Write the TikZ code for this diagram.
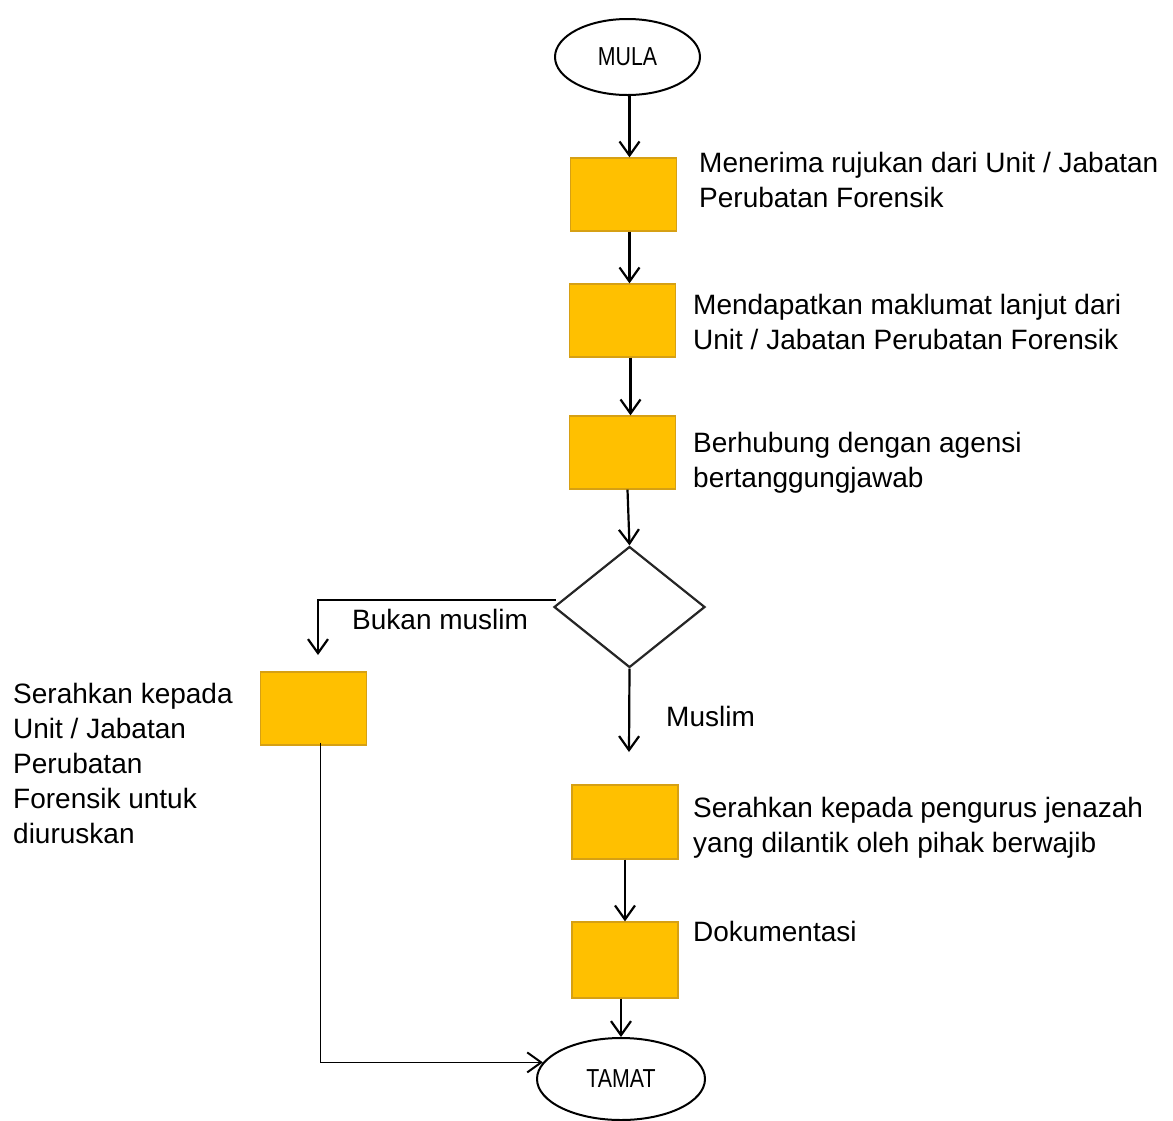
\documentclass[tikz,border=0pt]{standalone}
\usepackage{fontspec}
\setmainfont{Liberation Sans}
\newfontfamily\narrowfont[FakeStretch=0.82]{Liberation Sans}
\usetikzlibrary{shapes.geometric,arrows.meta,calc}
\definecolor{boxfill}{RGB}{255,192,0}
\definecolor{boxline}{RGB}{214,160,20}
\begin{document}
\begin{tikzpicture}[x=1pt,y=-1pt,
  procbox/.style={rectangle,fill=boxfill,draw=boxline,line width=1.3pt,minimum width=106pt,minimum height=73pt,inner sep=0pt},
  term/.style={ellipse,draw=black,line width=2pt,inner sep=0pt,font=\narrowfont\fontsize{26}{30}\selectfont},
  decide/.style={diamond,draw=black!85,line width=2.2pt,inner sep=0pt,minimum width=151pt,minimum height=121pt},
  lbl/.style={anchor=north west,inner sep=0pt,align=left,font=\fontsize{28}{35}\selectfont},
  arr/.style={line width=2.2pt,-{Straight Barb[length=14pt,width=20pt,line width=2.2pt]}},
  plain/.style={line width=1.8pt}]
\useasboundingbox (0,0) rectangle (1173,1120);
\fill[white] (0,0) rectangle (1173,1120);

\node[term,minimum width=145pt,minimum height=76pt] (mula) at (627.5,57) {MULA};
\node[procbox] (b1) at (623.5,194.5) {};
\node[procbox] (b2) at (622.5,320.5) {};
\node[procbox] (b3) at (622.5,452.5) {};
\node[decide] (dia) at (629.5,607) {};
\node[procbox] (bl) at (313.5,708.5) {};
\node[procbox,minimum height=74pt] (b4) at (625,822) {};
\node[procbox,minimum height=76pt] (b5) at (625,960) {};
\node[term,minimum width=168pt,minimum height=82pt] (tamat) at (621,1079) {TAMAT};

\node[lbl] (t1) at (699,152) {Menerima rujukan dari Unit / Jabatan\\Perubatan Forensik};
\node[lbl] (t2) at (693,294) {Mendapatkan maklumat lanjut dari\\Unit / Jabatan Perubatan Forensik};
\node[lbl] (t3) at (693,432) {Berhubung dengan agensi\\bertanggungjawab};
\node[lbl] (tb) at (352,609) {Bukan muslim};
\node[lbl] (tl) at (13,683) {Serahkan kepada\\Unit / Jabatan\\Perubatan\\Forensik untuk\\diuruskan};
\node[lbl] (tm) at (666,706) {Muslim};
\node[lbl] (t4) at (693,797) {Serahkan kepada pengurus jenazah\\yang dilantik oleh pihak berwajib};
\node[lbl] (t5) at (693,921) {Dokumentasi};

\coordinate (cl) at (318,655);
\coordinate (cm) at (629,752);

\draw[arr] ($(mula.south)+(2,0)$) -- ($(mula.south |- b1.north)+(2,0)$);
\draw[arr] ($(b1.south)+(6,0)$) -- ($(b1.south |- b2.north)+(6,0)$);
\draw[arr] ($(b2.south)+(8,0)$) -- ($(b2.south |- b3.north)+(8,0)$);
\draw[arr] ($(b3.south)+(5,0)$) -- (dia.north);
\draw[arr] ($(dia.west)+(3,-7)$) -| (cl);
\draw[arr] (dia.south) -- (cm);
\draw[arr] (b4.south) -- (b5.north);
\draw[arr] (tamat.north |- b5.south) -- (tamat.north);
\draw[plain,-{Straight Barb[length=14pt,width=20pt,line width=2pt]}] ($(bl.south)+(7,-3)$) |- (tamat.168);
\end{tikzpicture}
\end{document}
